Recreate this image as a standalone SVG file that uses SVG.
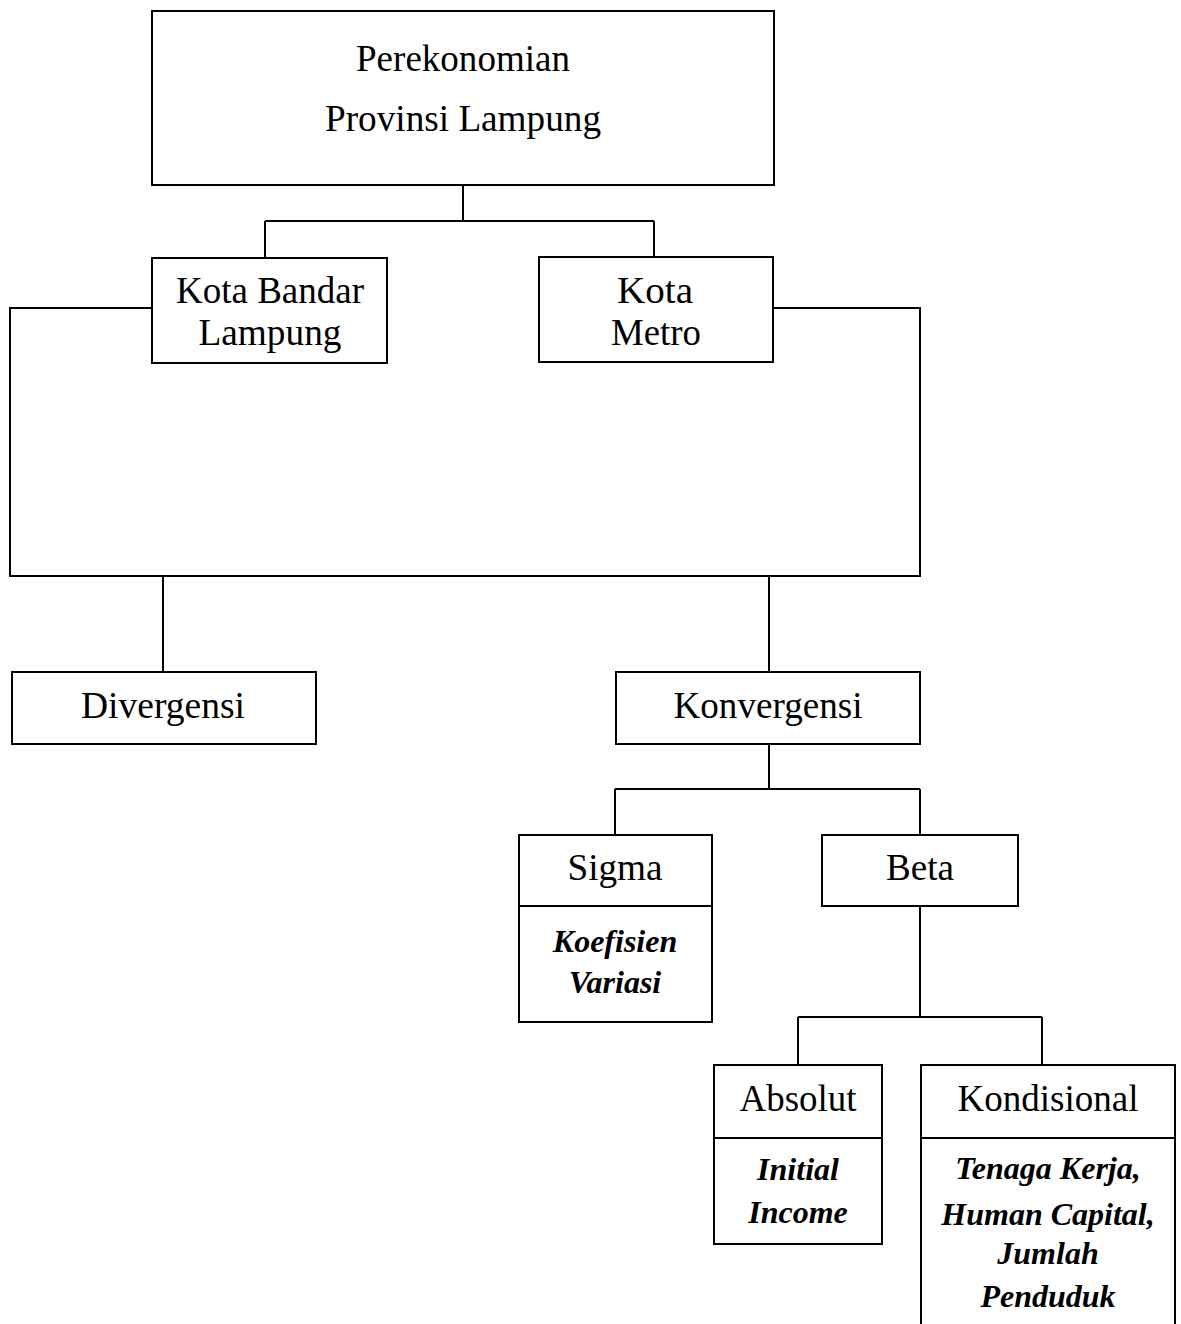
<svg xmlns="http://www.w3.org/2000/svg" width="1181" height="1324" viewBox="0 0 1181 1324">
<style>
.box{fill:#fff;stroke:#000;stroke-width:2}
.ln{fill:none;stroke:#000;stroke-width:2}
.t{font-family:"Liberation Serif","Times New Roman",serif;font-size:38px;text-anchor:middle;fill:#000}
.bi{font-family:"Liberation Serif","Times New Roman",serif;font-size:32px;font-weight:bold;font-style:italic;text-anchor:middle;fill:#000}
</style>
<rect width="1181" height="1324" fill="#fff"/>
<g id="connectors">
<path class="ln" d="M463 185 V221 M265 221 H654 M265 221 V258 M654 221 V257"/>
<path class="ln" d="M152 308 H10 V576 H920 V308 H773"/>
<path class="ln" d="M163 576 V672 M769 576 V672"/>
<path class="ln" d="M769 744 V789 M615 789 H920 M615 789 V835 M920 789 V835"/>
<path class="ln" d="M920 906 V1017 M798 1017 H1042 M798 1017 V1065 M1042 1017 V1065"/>
</g>
<g id="perekonomian">
<rect class="box" x="152" y="11" width="622" height="174"/>
<text class="t" x="463" y="71" textLength="214" lengthAdjust="spacingAndGlyphs">Perekonomian</text>
<text class="t" x="463" y="131" textLength="276" lengthAdjust="spacingAndGlyphs">Provinsi Lampung</text>
</g>
<g id="kota-bandar-lampung">
<rect class="box" x="152" y="258" width="235" height="105"/>
<text class="t" x="270" y="303" textLength="188" lengthAdjust="spacingAndGlyphs">Kota Bandar</text>
<text class="t" x="270" y="345" textLength="143" lengthAdjust="spacingAndGlyphs">Lampung</text>
</g>
<g id="kota-metro">
<rect class="box" x="539" y="257" width="234" height="105"/>
<text class="t" x="655" y="303" textLength="76" lengthAdjust="spacingAndGlyphs">Kota</text>
<text class="t" x="656" y="345" textLength="90" lengthAdjust="spacingAndGlyphs">Metro</text>
</g>
<g id="divergensi">
<rect class="box" x="12" y="672" width="304" height="72"/>
<text class="t" x="163" y="718" textLength="164" lengthAdjust="spacingAndGlyphs">Divergensi</text>
</g>
<g id="konvergensi">
<rect class="box" x="616" y="672" width="304" height="72"/>
<text class="t" x="768" y="718" textLength="189" lengthAdjust="spacingAndGlyphs">Konvergensi</text>
</g>
<g id="sigma">
<rect class="box" x="519" y="835" width="193" height="187"/>
<line class="ln" x1="519" y1="906" x2="712" y2="906"/>
<text class="t" x="615" y="880" textLength="95" lengthAdjust="spacingAndGlyphs">Sigma</text>
<text class="bi" x="615" y="952">Koefisien</text>
<text class="bi" x="615" y="993">Variasi</text>
</g>
<g id="beta">
<rect class="box" x="822" y="835" width="196" height="71"/>
<text class="t" x="920" y="880" textLength="68" lengthAdjust="spacingAndGlyphs">Beta</text>
</g>
<g id="absolut">
<rect class="box" x="714" y="1065" width="168" height="179"/>
<line class="ln" x1="714" y1="1138" x2="882" y2="1138"/>
<text class="t" x="798" y="1111" textLength="117" lengthAdjust="spacingAndGlyphs">Absolut</text>
<text class="bi" x="798" y="1180">Initial</text>
<text class="bi" x="798" y="1223">Income</text>
</g>
<g id="kondisional">
<rect class="box" x="921" y="1065" width="254" height="275"/>
<line class="ln" x1="921" y1="1138" x2="1175" y2="1138"/>
<text class="t" x="1048" y="1111" textLength="181" lengthAdjust="spacingAndGlyphs">Kondisional</text>
<text class="bi" x="1048" y="1179">Tenaga Kerja,</text>
<text class="bi" x="1048" y="1225">Human Capital,</text>
<text class="bi" x="1048" y="1264">Jumlah</text>
<text class="bi" x="1048" y="1307">Penduduk</text>
</g>
</svg>
